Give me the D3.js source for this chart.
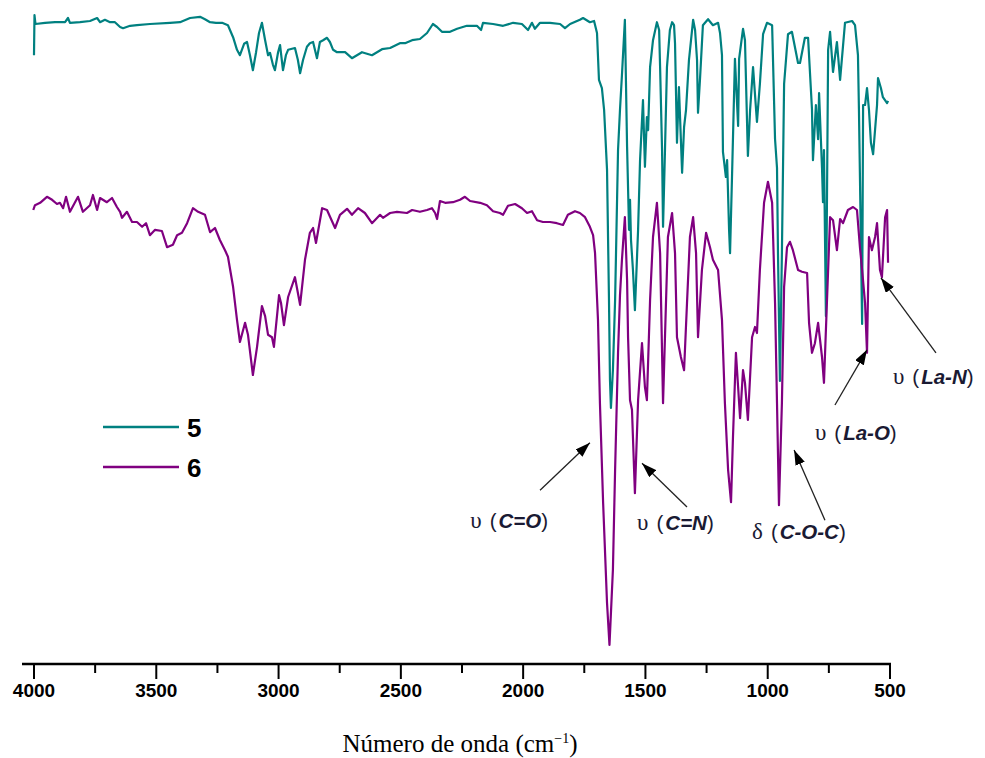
<!DOCTYPE html>
<html>
<head>
<meta charset="utf-8">
<script src="https://d3js.org/d3.v7.min.js"></script>
<style>
  body { margin: 0; background: #fff; }
  .tick-label { font-family: "Liberation Sans", Arial, sans-serif; font-weight: bold; font-size: 19px; }
  .note { font-family: "Liberation Sans", Arial, sans-serif; font-size: 20.5px; fill: #1a1a33; }
  .legend-label { font-family: "Liberation Sans", Arial, sans-serif; font-weight: bold; font-size: 26px; }
</style>
</head>
<body>
<svg id="chart" width="985" height="758"></svg>
<script>
  // wavenumber (cm-1), transmittance (offset, arb. units)
  const spectrum5 = [
    [4000,100.8],[3998,107.5],[3994,106.0],[3955,106.2],[3914,106.3],[3873,106.3],[3861,107.0],[3853,106.2],[3812,106.3],[3771,106.5],
    [3742,107.0],[3730,106.3],[3710,106.7],[3689,106.3],[3669,106.3],[3648,105.5],[3636,105.3],[3607,105.7],[3579,105.8],[3526,106.0],
    [3444,106.2],[3403,106.3],[3362,107.0],[3321,107.2],[3301,106.8],[3280,106.3],[3256,106.2],[3231,106.2],[3207,105.8],[3186,103.8],
    [3170,101.7],[3158,100.8],[3141,102.7],[3129,103.0],[3117,100.8],[3105,98.3],[3092,101.3],[3080,104.5],[3068,106.2],[3055,103.3],
    [3043,100.8],[3035,101.2],[3023,99.2],[3015,98.3],[3002,101.3],[2994,102.5],[2982,98.3],[2970,100.8],[2961,101.7],[2933,102.0],
    [2921,100.0],[2912,97.8],[2900,100.0],[2884,102.2],[2872,102.8],[2859,103.0],[2843,100.3],[2831,103.0],[2818,103.3],[2802,103.7],
    [2790,103.0],[2777,101.7],[2761,101.3],[2728,101.3],[2700,100.3],[2659,101.3],[2618,100.8],[2577,101.8],[2544,102.0],[2504,102.8],
    [2483,102.8],[2454,103.3],[2422,103.5],[2393,104.5],[2369,106.0],[2352,105.5],[2332,104.7],[2299,104.7],[2270,105.2],[2230,105.7],
    [2189,105.7],[2172,105.0],[2164,106.2],[2123,106.0],[2082,105.7],[2041,106.2],[2005,106.0],[1980,105.0],[1964,106.2],[1952,105.2],
    [1931,106.2],[1890,106.2],[1849,106.0],[1829,105.3],[1808,106.0],[1768,106.7],[1755,107.0],[1727,106.3],[1710,106.5],[1698,104.5],
    [1690,96.7],[1678,95.3],[1669,91.7],[1657,81.7],[1649,60.0],[1645,46.7],[1641,42.0],[1633,48.3],[1624,60.0],[1612,85.0],
    [1604,91.7],[1596,97.5],[1584,106.7],[1575,85.5],[1567,71.7],[1563,76.7],[1559,70.0],[1551,65.0],[1543,58.3],[1530,71.7],
    [1522,83.3],[1510,93.3],[1502,82.2],[1494,90.5],[1489,88.3],[1481,98.8],[1469,103.3],[1453,106.3],[1444,105.0],[1440,98.8],
    [1432,85.0],[1428,72.2],[1420,85.0],[1412,98.8],[1400,105.0],[1391,106.3],[1383,105.8],[1379,102.8],[1371,86.2],[1363,95.5],
    [1350,81.2],[1342,88.8],[1334,91.7],[1322,100.0],[1305,106.7],[1297,105.0],[1289,100.0],[1285,91.2],[1277,96.7],[1265,105.8],
    [1244,106.8],[1224,105.8],[1203,106.2],[1195,104.5],[1187,100.8],[1183,84.7],[1171,80.5],[1166,83.3],[1158,71.7],[1154,67.8],
    [1146,80.5],[1134,100.2],[1121,89.0],[1117,100.2],[1101,105.2],[1093,103.3],[1081,84.0],[1072,91.7],[1060,98.8],[1044,89.7],
    [1032,96.0],[1019,104.3],[1003,106.2],[982,105.8],[970,86.8],[962,82.0],[958,67.8],[950,46.5],[942,67.8],[933,96.0],
    [917,104.3],[901,104.7],[876,99.5],[868,99.5],[848,103.7],[835,103.7],[819,91.8],[815,83.3],[803,92.5],[794,86.8],
    [790,94.5],[778,82.0],[774,76.3],[770,85.0],[762,57.3],[758,75.0],[753,101.7],[745,104.7],[733,98.0],[717,103.0],
    [704,96.7],[684,106.2],[655,106.5],[643,105.8],[631,100.8],[627,91.8],[614,56.0],[610,92.5],[602,92.5],[594,95.3],
    [586,91.7],[578,86.2],[569,84.3],[553,92.5],[549,97.0],[537,95.3],[529,93.8],[512,92.8],[508,93.2]
  ];

  const spectrum6 = [
    [4003,75.0],[3996,75.8],[3975,76.2],[3947,77.2],[3926,76.7],[3906,76.0],[3894,76.2],[3881,75.3],[3869,77.2],[3853,74.7],
    [3820,77.2],[3800,74.7],[3771,75.8],[3759,77.5],[3742,75.0],[3730,77.0],[3702,76.3],[3681,77.0],[3661,75.5],[3648,74.7],
    [3640,73.7],[3620,74.7],[3599,73.0],[3579,73.0],[3558,72.2],[3542,72.8],[3526,70.8],[3505,71.7],[3477,71.5],[3456,68.8],
    [3432,69.2],[3415,70.8],[3395,71.2],[3374,72.8],[3350,75.3],[3329,74.7],[3301,74.2],[3280,71.3],[3260,72.0],[3240,70.0],
    [3219,68.3],[3207,67.2],[3186,62.2],[3170,56.7],[3158,53.0],[3137,56.2],[3125,54.2],[3105,47.5],[3088,52.2],[3068,59.0],
    [3055,57.3],[3043,54.2],[3027,53.8],[3019,52.2],[2998,60.8],[2990,59.5],[2978,55.8],[2961,60.5],[2933,63.8],[2912,59.2],
    [2892,66.7],[2872,71.2],[2859,72.0],[2847,69.5],[2822,75.3],[2802,75.0],[2769,72.0],[2749,74.2],[2720,75.2],[2700,74.2],
    [2675,75.3],[2647,74.5],[2618,72.8],[2585,74.2],[2573,73.7],[2544,74.5],[2516,74.7],[2475,74.5],[2454,75.0],[2422,74.7],
    [2393,75.0],[2373,75.3],[2360,74.5],[2352,73.5],[2340,76.5],[2319,76.2],[2287,76.3],[2258,76.7],[2238,77.2],[2217,76.5],
    [2176,76.2],[2148,75.8],[2123,74.8],[2095,74.5],[2082,74.2],[2062,75.7],[2033,76.0],[2005,75.3],[1984,74.5],[1964,74.8],
    [1943,73.3],[1919,73.0],[1890,73.0],[1862,72.8],[1837,72.5],[1817,74.2],[1788,74.8],[1768,74.5],[1747,73.8],[1727,72.2],
    [1714,70.8],[1706,67.8],[1694,56.7],[1686,42.8],[1673,26.2],[1657,9.5],[1647,2.5],[1633,15.0],[1624,31.7],[1612,51.2],
    [1604,60.8],[1596,66.7],[1584,73.8],[1575,63.3],[1571,53.8],[1563,43.3],[1555,41.7],[1543,27.8],[1530,43.3],[1514,52.8],
    [1502,45.5],[1494,43.3],[1481,60.0],[1469,70.5],[1453,76.2],[1440,67.8],[1432,51.2],[1428,42.8],[1416,59.5],[1408,70.5],
    [1391,74.5],[1379,67.8],[1371,53.8],[1355,50.5],[1342,48.3],[1330,59.5],[1318,70.5],[1305,73.8],[1293,67.8],[1285,53.8],
    [1269,65.0],[1252,71.2],[1236,68.8],[1224,66.7],[1203,65.0],[1187,56.7],[1175,42.8],[1162,31.7],[1150,26.3],[1142,37.2],
    [1130,51.2],[1121,45.5],[1113,40.3],[1101,48.3],[1093,46.2],[1081,40.0],[1064,53.8],[1052,55.5],[1044,54.5],[1032,65.0],
    [1015,76.2],[999,79.7],[982,76.2],[970,59.5],[962,42.8],[954,25.8],[942,42.8],[933,62.2],[921,68.8],[909,69.7],
    [897,68.3],[876,65.0],[860,64.7],[839,64.5],[831,56.2],[819,51.2],[807,52.8],[794,56.2],[778,50.5],[770,46.2],
    [758,59.5],[745,73.8],[733,73.3],[717,68.3],[704,73.5],[692,72.8],[672,75.0],[651,75.5],[635,75.0],[623,68.8],
    [614,65.0],[602,59.5],[594,51.2],[586,70.5],[574,68.3],[561,70.5],[553,72.8],[541,65.0],[533,63.8],[520,73.8],
    [512,75.0],[508,66.2]
  ];

  const seriesNames = ["5", "6"];
  const seriesColors = ["#008080", "#800080"];
  const majorTicks = [4000, 3500, 3000, 2500, 2000, 1500, 1000, 500];
  const minorTicks = [3750, 3250, 2750, 2250, 1750, 1250, 750];

  // band assignments: arrow head / tail and label anchor in (cm-1, T)
  const bands = [
    { greek: "υ", group: "C=O",   head: [1727, 36.2], tail: [1931, 28.3], at: [1898, 22.0], anchor: "end" },
    { greek: "υ", group: "C=N",   head: [1514, 32.8], tail: [1330, 25.5], at: [1534, 21.7], anchor: "start" },
    { greek: "δ", group: "C-O-C", head: [892, 35.0],  tail: [766, 23.3],  at: [1064, 20.2], anchor: "start" },
    { greek: "υ", group: "La-O",  head: [594, 51.7],  tail: [725, 42.5],  at: [807, 36.7],  anchor: "start" },
    { greek: "υ", group: "La-N",  head: [537, 63.7],  tail: [312, 51.2],  at: [488, 46.0],  anchor: "start" }
  ];

  const svg = d3.select("#chart");
  const axisY = 664;

  const x = d3.scaleLinear().domain([4000, 500]).range([34, 890]);
  const y = d3.scaleLinear().domain([0, 110]).range([660, 0]);

  const line = d3.line().x(d => x(d[0])).y(d => y(d[1]));

  svg.selectAll("path.trace")
    .data([spectrum5, spectrum6])
    .join("path")
    .attr("class", "trace")
    .attr("d", line)
    .attr("fill", "none")
    .attr("stroke", (d, i) => seriesColors[i])
    .attr("stroke-width", 2.2)
    .attr("stroke-linejoin", "round");

  // x axis
  const axis = svg.append("g");
  axis.append("line")
    .attr("x1", 22).attr("x2", 891)
    .attr("y1", axisY).attr("y2", axisY)
    .attr("stroke", "#000").attr("stroke-width", 2.5);

  axis.selectAll("line.major")
    .data(majorTicks)
    .join("line")
    .attr("class", "major")
    .attr("x1", d => x(d)).attr("x2", d => x(d))
    .attr("y1", axisY).attr("y2", axisY + 15)
    .attr("stroke", "#000").attr("stroke-width", 2);

  axis.selectAll("line.minor")
    .data(minorTicks)
    .join("line")
    .attr("class", "minor")
    .attr("x1", d => x(d)).attr("x2", d => x(d))
    .attr("y1", axisY).attr("y2", axisY + 9)
    .attr("stroke", "#000").attr("stroke-width", 2);

  axis.selectAll("text.tick-label")
    .data(majorTicks)
    .join("text")
    .attr("class", "tick-label")
    .attr("x", d => x(d))
    .attr("y", axisY + 33)
    .attr("text-anchor", "middle")
    .text(d => d);

  const title = svg.append("text")
    .attr("x", 460).attr("y", 752)
    .attr("text-anchor", "middle")
    .style("font-family", "'Liberation Serif', 'Times New Roman', serif")
    .style("font-size", "25px");
  title.append("tspan").text("Número de onda (cm");
  title.append("tspan").attr("dy", -9).style("font-size", "14px").text("−1");
  title.append("tspan").attr("dy", 9).text(")");

  // legend
  const legend = svg.append("g");
  seriesNames.forEach((name, i) => {
    const ly = 427 + i * 40;
    legend.append("line")
      .attr("x1", 103).attr("x2", 179)
      .attr("y1", ly).attr("y2", ly)
      .attr("stroke", seriesColors[i]).attr("stroke-width", 2.5);
    legend.append("text")
      .attr("class", "legend-label")
      .attr("x", 187).attr("y", ly + 10)
      .text(name);
  });

  // arrows + labels
  svg.append("defs").append("marker")
    .attr("id", "head")
    .attr("markerUnits", "userSpaceOnUse")
    .attr("markerWidth", 15).attr("markerHeight", 10)
    .attr("refX", 15).attr("refY", 5)
    .attr("orient", "auto")
    .append("path")
    .attr("d", "M0,0 L15,5 L0,10 Z")
    .attr("fill", "#000");

  const notes = svg.append("g");
  bands.forEach(b => {
    notes.append("line")
      .attr("x1", x(b.tail[0])).attr("y1", y(b.tail[1]))
      .attr("x2", x(b.head[0])).attr("y2", y(b.head[1]))
      .attr("stroke", "#222").attr("stroke-width", 1.3)
      .attr("marker-end", "url(#head)");

    const t = notes.append("text")
      .attr("class", "note")
      .attr("x", x(b.at[0])).attr("y", y(b.at[1]))
      .attr("text-anchor", b.anchor);
    t.append("tspan").style("font-family", "'Liberation Serif', serif").style("font-size", "23px").text(b.greek);
    t.append("tspan").attr("dx", 8).text("(");
    t.append("tspan").attr("dx", 2).style("font-style", "italic").style("font-weight", "bold").text(b.group);
    t.append("tspan").text(")");
  });
</script>
</body>
</html>
